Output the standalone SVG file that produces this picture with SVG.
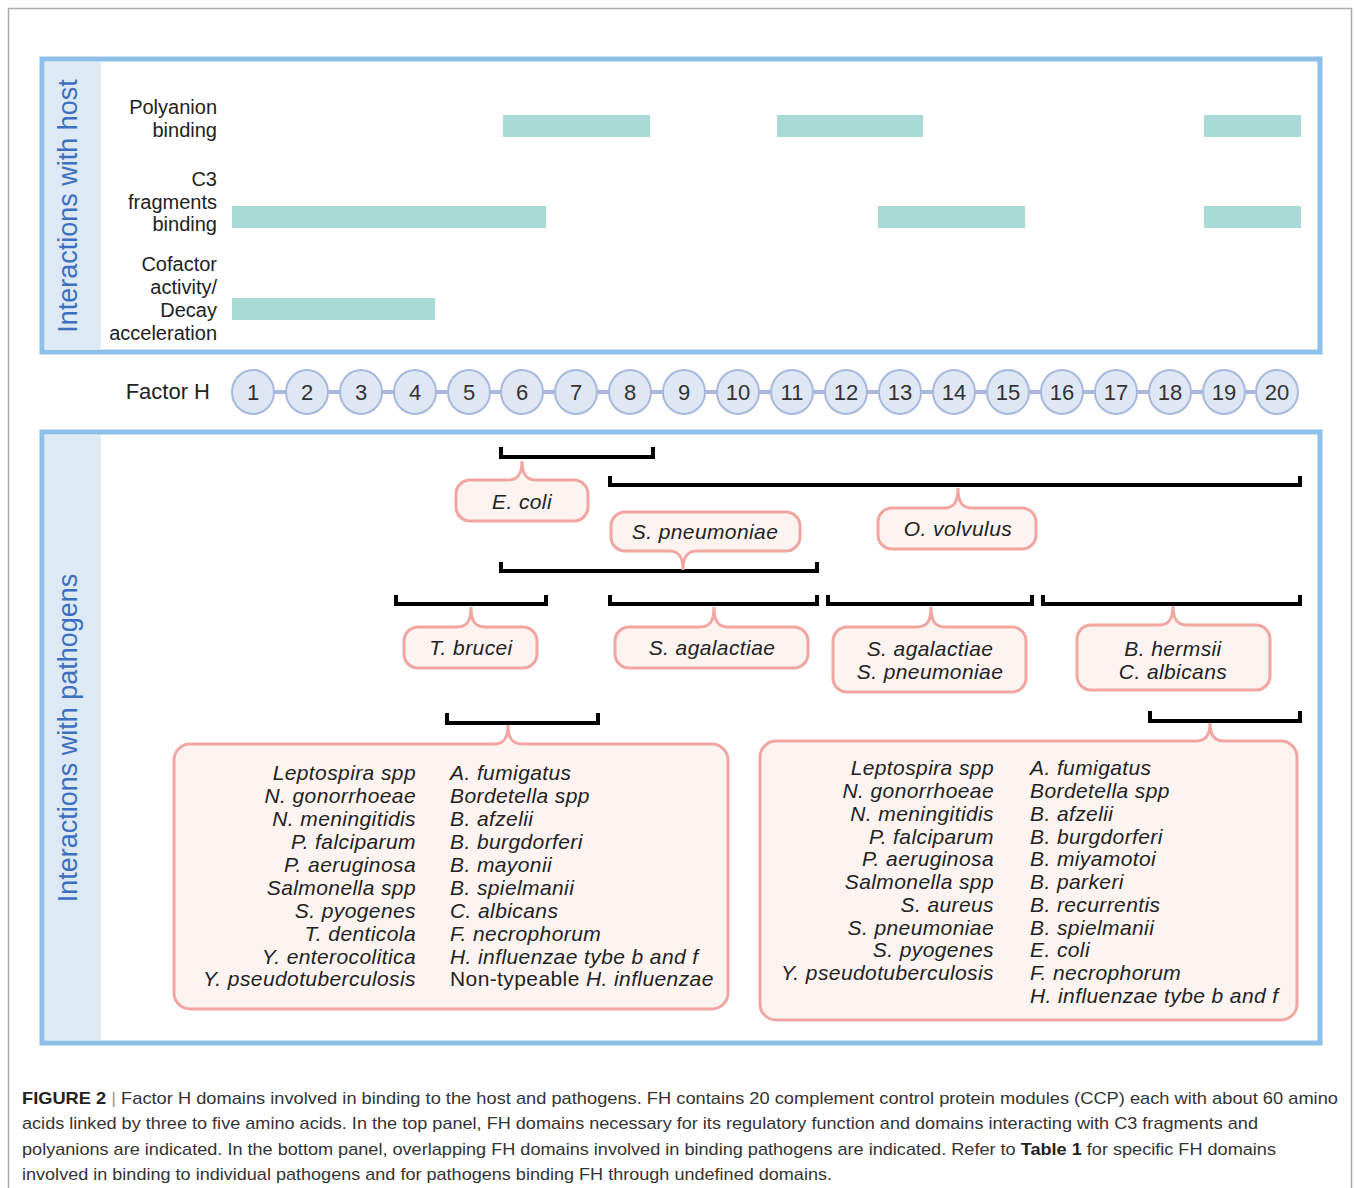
<svg xmlns="http://www.w3.org/2000/svg" width="1354" height="1188" viewBox="0 0 1354 1188">
<style>
text{font-family:"Liberation Sans",Arial,sans-serif;fill:#222}
.lbl{font-size:20px;text-anchor:end}
.side{font-size:27px;fill:#3d6fc0;text-anchor:middle}
.frame{fill:#fff;stroke:#8dbfe8;stroke-width:5}
.band{fill:#dde9f5}
.bar{fill:#a8dbd6}
.mod{fill:#dfe7f5;stroke:#a8b8dd;stroke-width:2}
.num{font-size:22px;text-anchor:middle;fill:#333}
.br{fill:none;stroke:#000;stroke-width:4}
.co{fill:#fdf4f2;stroke:#f1a6a1;stroke-width:3}
.it{font-size:21px;letter-spacing:0.4px;font-style:italic;text-anchor:middle}
.l{font-size:21px;letter-spacing:0.4px;font-style:italic;text-anchor:end}
.r{font-size:21px;letter-spacing:0.4px;font-style:italic;text-anchor:start}
.cap{font-size:17px;fill:#333}
</style>
<rect x="0" y="0" width="1354" height="1188" fill="#fff"/>
<rect x="8.5" y="8.5" width="1343" height="1200" fill="none" stroke="#aaa" stroke-width="1.5"/>

<g id="host-panel">
<rect class="frame" x="42" y="59" width="1278" height="293"/>
<rect class="band" x="45" y="62" width="56" height="288"/>
<text class="side" transform="translate(77,206) rotate(-90)">Interactions with host</text>
</g>
<g id="row-polyanion">
<text class="lbl" x="217" y="114">Polyanion</text>
<text class="lbl" x="217" y="137">binding</text>
<rect class="bar" x="503" y="115" width="147" height="22"/>
<rect class="bar" x="777" y="115" width="146" height="22"/>
<rect class="bar" x="1204" y="115" width="97" height="22"/>
</g>
<g id="row-c3">
<text class="lbl" x="217" y="186">C3</text>
<text class="lbl" x="217" y="209">fragments</text>
<text class="lbl" x="217" y="231">binding</text>
<rect class="bar" x="232" y="206" width="314" height="22"/>
<rect class="bar" x="878" y="206" width="147" height="22"/>
<rect class="bar" x="1204" y="206" width="97" height="22"/>
</g>
<g id="row-cofactor">
<text class="lbl" x="217" y="271">Cofactor</text>
<text class="lbl" x="217" y="294">activity/</text>
<text class="lbl" x="217" y="317">Decay</text>
<text class="lbl" x="217" y="340">acceleration</text>
<rect class="bar" x="232" y="298" width="203" height="22"/>
</g>

<g id="factor-h">
<text x="210" y="399" font-size="22" text-anchor="end">Factor H</text>
<line x1="253" y1="392" x2="1277" y2="392" stroke="#a8b8dd" stroke-width="4"/>
<g id="ccp1"><ellipse class="mod" cx="253" cy="392" rx="21" ry="22"/><text class="num" x="253" y="400">1</text></g>
<g id="ccp2"><ellipse class="mod" cx="307" cy="392" rx="21" ry="22"/><text class="num" x="307" y="400">2</text></g>
<g id="ccp3"><ellipse class="mod" cx="361" cy="392" rx="21" ry="22"/><text class="num" x="361" y="400">3</text></g>
<g id="ccp4"><ellipse class="mod" cx="415" cy="392" rx="21" ry="22"/><text class="num" x="415" y="400">4</text></g>
<g id="ccp5"><ellipse class="mod" cx="469" cy="392" rx="21" ry="22"/><text class="num" x="469" y="400">5</text></g>
<g id="ccp6"><ellipse class="mod" cx="522" cy="392" rx="21" ry="22"/><text class="num" x="522" y="400">6</text></g>
<g id="ccp7"><ellipse class="mod" cx="576" cy="392" rx="21" ry="22"/><text class="num" x="576" y="400">7</text></g>
<g id="ccp8"><ellipse class="mod" cx="630" cy="392" rx="21" ry="22"/><text class="num" x="630" y="400">8</text></g>
<g id="ccp9"><ellipse class="mod" cx="684" cy="392" rx="21" ry="22"/><text class="num" x="684" y="400">9</text></g>
<g id="ccp10"><ellipse class="mod" cx="738" cy="392" rx="21" ry="22"/><text class="num" x="738" y="400">10</text></g>
<g id="ccp11"><ellipse class="mod" cx="792" cy="392" rx="21" ry="22"/><text class="num" x="792" y="400">11</text></g>
<g id="ccp12"><ellipse class="mod" cx="846" cy="392" rx="21" ry="22"/><text class="num" x="846" y="400">12</text></g>
<g id="ccp13"><ellipse class="mod" cx="900" cy="392" rx="21" ry="22"/><text class="num" x="900" y="400">13</text></g>
<g id="ccp14"><ellipse class="mod" cx="954" cy="392" rx="21" ry="22"/><text class="num" x="954" y="400">14</text></g>
<g id="ccp15"><ellipse class="mod" cx="1008" cy="392" rx="21" ry="22"/><text class="num" x="1008" y="400">15</text></g>
<g id="ccp16"><ellipse class="mod" cx="1062" cy="392" rx="21" ry="22"/><text class="num" x="1062" y="400">16</text></g>
<g id="ccp17"><ellipse class="mod" cx="1116" cy="392" rx="21" ry="22"/><text class="num" x="1116" y="400">17</text></g>
<g id="ccp18"><ellipse class="mod" cx="1170" cy="392" rx="21" ry="22"/><text class="num" x="1170" y="400">18</text></g>
<g id="ccp19"><ellipse class="mod" cx="1224" cy="392" rx="21" ry="22"/><text class="num" x="1224" y="400">19</text></g>
<g id="ccp20"><ellipse class="mod" cx="1277" cy="392" rx="21" ry="22"/><text class="num" x="1277" y="400">20</text></g>
</g>

<g id="pathogen-panel">
<rect class="frame" x="42" y="432" width="1278" height="611"/>
<rect class="band" x="45" y="435" width="56" height="605"/>
<text class="side" transform="translate(77,738) rotate(-90)">Interactions with pathogens</text>
</g>

<g id="connectors">
<path class="br" d="M501,447 L501,457 L653,457 L653,447"/>
<path class="br" d="M610,476 L610,485 L1300,485 L1300,476"/>
<path class="br" d="M501,562 L501,571 L817,571 L817,562"/>
<path class="br" d="M396,595 L396,604 L546,604 L546,595"/>
<path class="br" d="M610,595 L610,604 L817,604 L817,595"/>
<path class="br" d="M828,595 L828,604 L1032,604 L1032,595"/>
<path class="br" d="M1043,595 L1043,604 L1300,604 L1300,595"/>
<path class="br" d="M447,713 L447,723 L598,723 L598,713"/>
<path class="br" d="M1150,711 L1150,721 L1300,721 L1300,711"/>
</g>

<g id="ecoli">
<path class="co" d="M470,480 L508,480 C518,480 522,474 522,461 C522,474 526,480 536,480 L574,480 A14,14 0 0 1 588,494 L588,507 A14,14 0 0 1 574,521 L470,521 A14,14 0 0 1 456,507 L456,494 A14,14 0 0 1 470,480 Z"/>
<text class="it" x="522" y="509">E. coli</text>
</g>
<g id="spneumoniae">
<path class="co" d="M625,512 L786,512 A14,14 0 0 1 800,526 L800,537 A14,14 0 0 1 786,551 L697,551 C687,551 683,557 683,570 C683,557 679,551 669,551 L625,551 A14,14 0 0 1 611,537 L611,526 A14,14 0 0 1 625,512 Z"/>
<text class="it" x="705" y="539">S. pneumoniae</text>
</g>
<g id="ovolvulus">
<path class="co" d="M892,508 L944,508 C954,508 958,502 958,488 C958,502 962,508 972,508 L1022,508 A14,14 0 0 1 1036,522 L1036,535 A14,14 0 0 1 1022,549 L892,549 A14,14 0 0 1 878,535 L878,522 A14,14 0 0 1 892,508 Z"/>
<text class="it" x="958" y="536">O. volvulus</text>
</g>
<g id="tbrucei">
<path class="co" d="M418,627 L457,627 C467,627 471,621 471,607 C471,621 475,627 485,627 L523,627 A14,14 0 0 1 537,641 L537,654 A14,14 0 0 1 523,668 L418,668 A14,14 0 0 1 404,654 L404,641 A14,14 0 0 1 418,627 Z"/>
<text class="it" x="471" y="655">T. brucei</text>
</g>
<g id="sagalactiae">
<path class="co" d="M629,627 L700,627 C710,627 714,621 714,607 C714,621 718,627 728,627 L794,627 A14,14 0 0 1 808,641 L808,654 A14,14 0 0 1 794,668 L629,668 A14,14 0 0 1 615,654 L615,641 A14,14 0 0 1 629,627 Z"/>
<text class="it" x="712" y="655">S. agalactiae</text>
</g>
<g id="sagalactiae-spneumoniae">
<path class="co" d="M847,627 L917,627 C927,627 931,621 931,607 C931,621 935,627 945,627 L1012,627 A14,14 0 0 1 1026,641 L1026,678 A14,14 0 0 1 1012,692 L847,692 A14,14 0 0 1 833,678 L833,641 A14,14 0 0 1 847,627 Z"/>
<text class="it" x="930" y="656">S. agalactiae</text>
<text class="it" x="930" y="679">S. pneumoniae</text>
</g>
<g id="bhermsii-calbicans">
<path class="co" d="M1091,625 L1159,625 C1169,625 1173,619 1173,606 C1173,619 1177,625 1187,625 L1256,625 A14,14 0 0 1 1270,639 L1270,676 A14,14 0 0 1 1256,690 L1091,690 A14,14 0 0 1 1077,676 L1077,639 A14,14 0 0 1 1091,625 Z"/>
<text class="it" x="1173" y="656">B. hermsii</text>
<text class="it" x="1173" y="679">C. albicans</text>
</g>

<g id="list-left">
<path class="co" d="M190,744 L494,744 C504,744 508,738 508,725 C508,738 512,744 522,744 L712,744 A16,16 0 0 1 728,760 L728,993 A16,16 0 0 1 712,1009 L190,1009 A16,16 0 0 1 174,993 L174,760 A16,16 0 0 1 190,744 Z"/>
<text class="l" x="416" y="780">Leptospira spp</text>
<text class="l" x="416" y="803">N. gonorrhoeae</text>
<text class="l" x="416" y="826">N. meningitidis</text>
<text class="l" x="416" y="849">P. falciparum</text>
<text class="l" x="416" y="872">P. aeruginosa</text>
<text class="l" x="416" y="895">Salmonella spp</text>
<text class="l" x="416" y="918">S. pyogenes</text>
<text class="l" x="416" y="941">T. denticola</text>
<text class="l" x="416" y="964">Y. enterocolitica</text>
<text class="l" x="416" y="986">Y. pseudotuberculosis</text>
<text class="r" x="450" y="780">A. fumigatus</text>
<text class="r" x="450" y="803">Bordetella spp</text>
<text class="r" x="450" y="826">B. afzelii</text>
<text class="r" x="450" y="849">B. burgdorferi</text>
<text class="r" x="450" y="872">B. mayonii</text>
<text class="r" x="450" y="895">B. spielmanii</text>
<text class="r" x="450" y="918">C. albicans</text>
<text class="r" x="450" y="941">F. necrophorum</text>
<text class="r" x="450" y="964">H. influenzae tybe b and f</text>
<text class="r" x="450" y="986"><tspan font-style="normal">Non-typeable </tspan>H. influenzae</text>
</g>

<g id="list-right">
<path class="co" d="M776,741 L1196,741 C1206,741 1210,735 1210,723 C1210,735 1214,741 1224,741 L1281,741 A16,16 0 0 1 1297,757 L1297,1004 A16,16 0 0 1 1281,1020 L776,1020 A16,16 0 0 1 760,1004 L760,757 A16,16 0 0 1 776,741 Z"/>
<text class="l" x="994" y="775">Leptospira spp</text>
<text class="l" x="994" y="798">N. gonorrhoeae</text>
<text class="l" x="994" y="821">N. meningitidis</text>
<text class="l" x="994" y="844">P. falciparum</text>
<text class="l" x="994" y="866">P. aeruginosa</text>
<text class="l" x="994" y="889">Salmonella spp</text>
<text class="l" x="994" y="912">S. aureus</text>
<text class="l" x="994" y="935">S. pneumoniae</text>
<text class="l" x="994" y="957">S. pyogenes</text>
<text class="l" x="994" y="980">Y. pseudotuberculosis</text>
<text class="r" x="1030" y="775">A. fumigatus</text>
<text class="r" x="1030" y="798">Bordetella spp</text>
<text class="r" x="1030" y="821">B. afzelii</text>
<text class="r" x="1030" y="844">B. burgdorferi</text>
<text class="r" x="1030" y="866">B. miyamotoi</text>
<text class="r" x="1030" y="889">B. parkeri</text>
<text class="r" x="1030" y="912">B. recurrentis</text>
<text class="r" x="1030" y="935">B. spielmanii</text>
<text class="r" x="1030" y="957">E. coli</text>
<text class="r" x="1030" y="980">F. necrophorum</text>
<text class="r" x="1030" y="1003">H. influenzae tybe b and f</text>
</g>

<g id="caption">
<text class="cap" x="22" y="1104" textLength="1316" lengthAdjust="spacingAndGlyphs"><tspan font-weight="bold" fill="#222">FIGURE 2</tspan> <tspan fill="#999">|</tspan> Factor H domains involved in binding to the host and pathogens. FH contains 20 complement control protein modules (CCP) each with about 60 amino</text>
<text class="cap" x="22" y="1129" textLength="1236" lengthAdjust="spacingAndGlyphs">acids linked by three to five amino acids. In the top panel, FH domains necessary for its regulatory function and domains interacting with C3 fragments and</text>
<text class="cap" x="22" y="1155" textLength="1254" lengthAdjust="spacingAndGlyphs">polyanions are indicated. In the bottom panel, overlapping FH domains involved in binding pathogens are indicated. Refer to <tspan font-weight="bold" fill="#222">Table 1</tspan> for specific FH domains</text>
<text class="cap" x="22" y="1180" textLength="810" lengthAdjust="spacingAndGlyphs">involved in binding to individual pathogens and for pathogens binding FH through undefined domains.</text>
</g>
</svg>
